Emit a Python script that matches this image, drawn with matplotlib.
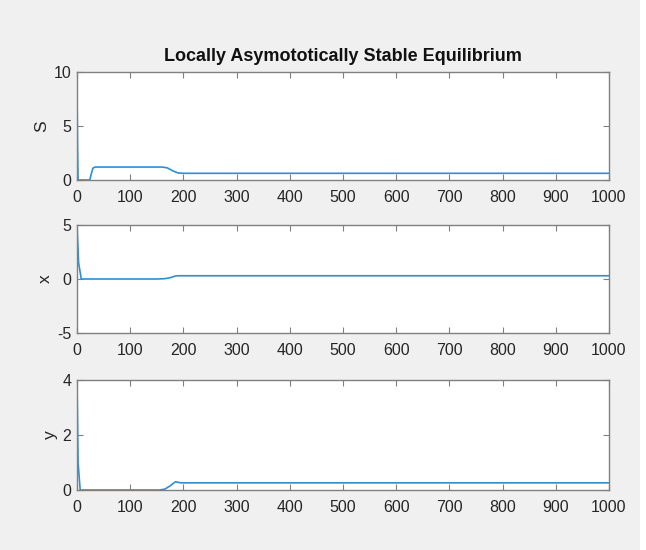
import matplotlib
matplotlib.use("Agg")
import matplotlib.pyplot as plt
from matplotlib.patches import Rectangle

plt.rcParams['font.family'] = ['Liberation Sans', 'DejaVu Sans']
plt.rcParams['axes.unicode_minus'] = False

title = "Locally Asymototically Stable Equilibrium"

t_S = [0, 1, 2, 24, 27, 30, 34, 160, 170, 180, 190, 200, 1000]
S = [8.5, 3.0, 0.0, 0.0, 0.6, 1.1, 1.2, 1.2, 1.12, 0.85, 0.65, 0.62, 0.62]

t_x = [0, 3, 8, 150, 165, 175, 185, 190, 1000]
x = [5.0, 1.5, 0.0, 0.0, 0.03, 0.12, 0.28, 0.3, 0.3]

t_y = [0, 2, 6, 155, 165, 175, 185, 195, 1000]
y = [4.0, 1.0, 0.0, 0.0, 0.03, 0.15, 0.3, 0.26, 0.26]

panels = [
    ("S", t_S, S, (0, 10), [0, 5, 10]),
    ("x", t_x, x, (-5, 5), [-5, 0, 5]),
    ("y", t_y, y, (0, 4), [0, 2, 4]),
]
xticks = list(range(0, 1001, 100))

W, H = 646, 550
fig = plt.figure(figsize=(W / 100, H / 100), dpi=100, facecolor='white')
fig.patches.append(Rectangle((0, 0), 640 / W, 1, transform=fig.transFigure,
                             facecolor='#f0f0f0', edgecolor='none', zorder=-10))

# axes boxes in pixels: (top, bottom)
boxes = [(72, 180), (225, 333), (380, 490)]
left, right = 77, 609
line_color = '#2f8fd0'
axis_color = '#808080'
text_color = '#262626'

for (label, tt, vv, ylim, yt), (top, bot) in zip(panels, boxes):
    ax = fig.add_axes([left / W, 1 - bot / H, (right - left) / W, (bot - top) / H])
    ax.set_facecolor('white')
    ax.plot(tt, vv, color=line_color, lw=1.2)
    ax.set_xlim(0, 1000)
    ax.set_ylim(*ylim)
    ax.set_xticks(xticks)
    ax.set_yticks(yt)
    ax.tick_params(direction='in', top=True, right=True, length=4, width=0.8,
                   colors=axis_color, labelcolor=text_color, labelsize=11.5)
    ax.tick_params(axis='x', pad=7)
    ax.tick_params(axis='y', pad=4)
    for sp in ax.spines.values():
        sp.set_color(axis_color)
        sp.set_linewidth(1.0)
    ax.set_ylabel(label, fontsize=12.5, color=text_color, labelpad=3)
    if label == "S":
        ax.set_title(title, fontsize=13, fontweight='bold', color='#111111', pad=8)

fig.savefig("out.png", dpi=100, facecolor=fig.get_facecolor())
